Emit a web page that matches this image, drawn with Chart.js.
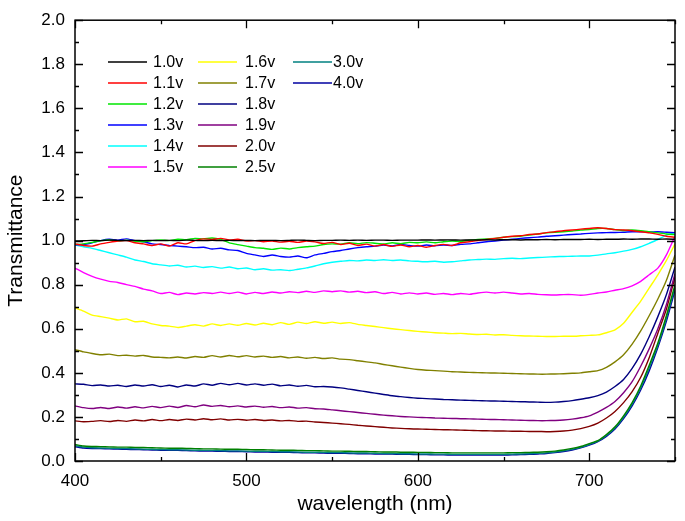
<html>
<head>
<meta name="viewport" content="width=device-width">
<script src="https://cdn.jsdelivr.net/npm/chart.js@4.4.1/dist/chart.umd.min.js"></script>
<style>
  * { padding: 0; margin: 0; }
  body { background: #fff; }
  #wrap { width: 685px; height: 521px; position: relative; }
</style>
</head>
<body>
<div id="wrap"><canvas id="chart"></canvas></div>
<script>
// wavelength (nm)
var wavelengths = [
  400,405,410,415,420,425,430,435,440,445,
  450,455,460,465,470,475,480,485,490,495,
  500,505,510,515,520,525,530,535,540,545,
  550,555,560,565,570,575,580,585,590,595,
  600,605,610,615,620,625,630,635,640,645,
  650,655,660,665,670,675,680,685,690,695,
  700,705,710,715,720,725,730,735,740,745,
  750];

var labels = ['1.0v','1.1v','1.2v','1.3v','1.4v','1.5v','1.6v','1.7v','1.8v','1.9v','2.0v','2.5v','3.0v','4.0v'];
var colors = ['#000000','#ff0000','#00e600','#0000ff','#00ffff','#ff00ff','#ffff00','#808000','#000080','#800080','#800000','#008000','#008080','#0000a0'];

var v10 = [0.998,0.999,1.001,1.000,1.002,1.001,1.000,1.001,1.000,1.001,
  1.000,1.001,1.000,1.002,1.001,1.000,1.001,1.000,1.001,1.000,
  1.001,1.000,1.001,1.001,1.000,1.001,1.002,1.001,1.000,1.001,
  1.001,1.002,1.001,1.002,1.001,1.002,1.002,1.001,1.002,1.002,
  1.002,1.003,1.002,1.003,1.003,1.002,1.003,1.003,1.004,1.003,
  1.004,1.004,1.003,1.004,1.004,1.005,1.004,1.005,1.005,1.005,
  1.006,1.005,1.006,1.006,1.007,1.006,1.007,1.007,1.006,1.007,
  1.006];
var v11 = [0.985,0.978,0.975,0.985,0.992,0.998,1.000,0.990,0.985,0.978,
  0.985,0.975,0.990,0.985,1.000,1.008,1.005,1.010,1.003,1.006,
  0.998,1.000,0.995,0.998,0.993,0.997,0.992,0.998,0.994,0.987,
  0.992,0.982,0.988,0.978,0.984,0.975,0.982,0.974,0.980,0.972,
  0.978,0.970,0.978,0.983,0.978,0.990,0.995,1.000,1.005,1.010,
  1.015,1.020,1.022,1.028,1.030,1.036,1.040,1.045,1.048,1.052,
  1.055,1.058,1.055,1.050,1.048,1.045,1.040,1.035,1.028,1.020,
  1.015];
var v12 = [0.982,0.985,0.992,1.000,1.003,0.998,1.002,0.997,0.995,1.000,
  1.003,1.000,1.006,1.004,1.010,1.008,1.012,1.005,0.990,0.982,
  0.975,0.968,0.965,0.960,0.966,0.962,0.968,0.972,0.975,0.982,
  0.985,0.984,0.990,0.986,0.991,0.988,0.985,0.990,0.986,0.992,
  0.990,0.994,0.990,0.995,0.998,0.996,1.002,1.005,1.008,1.010,
  1.015,1.018,1.020,1.025,1.030,1.035,1.038,1.040,1.043,1.048,
  1.050,1.055,1.055,1.050,1.046,1.048,1.045,1.040,1.035,1.030,
  1.027];
var v13 = [0.980,0.982,0.990,1.000,1.006,1.002,1.008,1.000,0.995,0.985,
  0.982,0.978,0.975,0.972,0.968,0.970,0.962,0.965,0.958,0.955,
  0.942,0.935,0.928,0.935,0.928,0.925,0.930,0.922,0.935,0.942,
  0.950,0.955,0.962,0.968,0.972,0.975,0.980,0.976,0.982,0.978,
  0.975,0.980,0.976,0.980,0.978,0.983,0.985,0.990,0.995,0.998,
  1.002,1.006,1.010,1.013,1.016,1.020,1.022,1.025,1.028,1.030,
  1.033,1.035,1.036,1.037,1.038,1.040,1.040,1.039,1.040,1.038,
  1.036];
var v14 = [0.980,0.972,0.965,0.955,0.945,0.935,0.925,0.912,0.905,0.895,
  0.890,0.885,0.888,0.880,0.884,0.878,0.882,0.875,0.880,0.872,
  0.876,0.868,0.872,0.866,0.868,0.864,0.870,0.876,0.885,0.895,
  0.902,0.906,0.910,0.908,0.912,0.910,0.913,0.910,0.912,0.908,
  0.906,0.904,0.906,0.902,0.904,0.908,0.912,0.914,0.916,0.915,
  0.918,0.920,0.918,0.921,0.923,0.925,0.927,0.928,0.929,0.930,
  0.930,0.934,0.940,0.945,0.952,0.960,0.972,0.988,1.005,1.025,
  1.035];
var v15 = [0.875,0.855,0.838,0.825,0.815,0.810,0.800,0.792,0.780,0.772,
  0.760,0.765,0.755,0.762,0.758,0.764,0.760,0.766,0.760,0.766,
  0.758,0.765,0.760,0.767,0.762,0.768,0.764,0.770,0.765,0.772,
  0.768,0.772,0.766,0.770,0.764,0.768,0.760,0.765,0.758,0.763,
  0.758,0.762,0.756,0.760,0.755,0.760,0.756,0.762,0.766,0.762,
  0.766,0.762,0.758,0.760,0.756,0.754,0.753,0.755,0.755,0.752,
  0.756,0.762,0.767,0.775,0.782,0.795,0.815,0.845,0.875,0.935,
  1.020];
var v16 = [0.695,0.680,0.662,0.655,0.648,0.640,0.645,0.632,0.634,0.622,
  0.615,0.612,0.606,0.612,0.618,0.612,0.622,0.615,0.622,0.616,
  0.624,0.617,0.625,0.618,0.628,0.620,0.630,0.624,0.632,0.625,
  0.630,0.624,0.628,0.620,0.615,0.610,0.605,0.600,0.596,0.592,
  0.588,0.585,0.582,0.580,0.578,0.579,0.576,0.574,0.575,0.572,
  0.573,0.570,0.568,0.567,0.566,0.565,0.565,0.566,0.566,0.568,
  0.570,0.572,0.582,0.595,0.625,0.675,0.725,0.785,0.845,0.910,
  0.985];
var v17 = [0.505,0.495,0.488,0.482,0.485,0.478,0.480,0.476,0.479,0.472,
  0.470,0.468,0.472,0.467,0.474,0.470,0.478,0.472,0.479,0.473,
  0.478,0.472,0.476,0.470,0.474,0.468,0.472,0.466,0.470,0.465,
  0.468,0.462,0.460,0.455,0.450,0.445,0.438,0.432,0.426,0.420,
  0.415,0.412,0.410,0.408,0.405,0.404,0.402,0.401,0.400,0.399,
  0.398,0.397,0.396,0.395,0.394,0.394,0.395,0.396,0.398,0.400,
  0.405,0.410,0.425,0.450,0.482,0.530,0.590,0.660,0.735,0.820,
  0.935];
var v18 = [0.350,0.348,0.342,0.345,0.340,0.344,0.338,0.345,0.340,0.346,
  0.338,0.344,0.336,0.345,0.340,0.350,0.344,0.352,0.346,0.352,
  0.345,0.350,0.344,0.349,0.341,0.345,0.339,0.343,0.337,0.338,
  0.336,0.332,0.326,0.320,0.314,0.308,0.302,0.296,0.292,0.288,
  0.285,0.283,0.281,0.279,0.278,0.276,0.275,0.274,0.273,0.272,
  0.271,0.270,0.269,0.268,0.267,0.266,0.267,0.270,0.274,0.280,
  0.287,0.297,0.313,0.338,0.370,0.420,0.485,0.565,0.655,0.755,
  0.880];
var v19 = [0.250,0.242,0.238,0.243,0.238,0.245,0.240,0.246,0.241,0.248,
  0.242,0.249,0.243,0.252,0.246,0.254,0.248,0.252,0.246,0.250,
  0.245,0.249,0.244,0.247,0.242,0.245,0.240,0.242,0.237,0.236,
  0.232,0.228,0.224,0.220,0.216,0.212,0.208,0.205,0.202,0.200,
  0.198,0.197,0.195,0.194,0.193,0.192,0.191,0.190,0.189,0.188,
  0.187,0.186,0.185,0.184,0.183,0.183,0.184,0.186,0.190,0.196,
  0.205,0.222,0.243,0.270,0.310,0.360,0.430,0.510,0.600,0.710,
  0.850];
var v20 = [0.182,0.178,0.180,0.183,0.179,0.184,0.180,0.186,0.182,0.188,
  0.183,0.188,0.184,0.190,0.186,0.192,0.187,0.191,0.186,0.189,
  0.185,0.188,0.184,0.186,0.182,0.184,0.180,0.181,0.177,0.175,
  0.172,0.169,0.166,0.162,0.159,0.156,0.153,0.150,0.148,0.146,
  0.145,0.144,0.143,0.142,0.141,0.140,0.139,0.138,0.137,0.136,
  0.136,0.135,0.135,0.134,0.134,0.133,0.134,0.136,0.140,0.147,
  0.157,0.172,0.195,0.225,0.265,0.315,0.380,0.470,0.580,0.690,
  0.835];
var v25 = [0.075,0.068,0.066,0.065,0.064,0.063,0.063,0.062,0.061,0.060,
  0.059,0.058,0.058,0.057,0.056,0.055,0.055,0.054,0.053,0.053,
  0.052,0.051,0.051,0.050,0.049,0.049,0.048,0.047,0.047,0.046,
  0.045,0.045,0.044,0.043,0.043,0.042,0.041,0.041,0.040,0.040,
  0.039,0.039,0.038,0.038,0.037,0.037,0.037,0.037,0.037,0.037,
  0.037,0.038,0.038,0.039,0.040,0.042,0.045,0.050,0.057,0.066,
  0.079,0.092,0.120,0.155,0.205,0.265,0.340,0.435,0.535,0.660,
  0.800];
var v30 = [0.070,0.063,0.060,0.059,0.058,0.057,0.056,0.055,0.054,0.053,
  0.052,0.051,0.051,0.050,0.049,0.048,0.048,0.047,0.046,0.046,
  0.045,0.044,0.044,0.043,0.042,0.042,0.041,0.040,0.040,0.039,
  0.038,0.038,0.037,0.036,0.036,0.035,0.034,0.034,0.033,0.033,
  0.032,0.032,0.031,0.031,0.030,0.030,0.030,0.030,0.030,0.030,
  0.030,0.031,0.032,0.033,0.035,0.037,0.041,0.046,0.053,0.062,
  0.075,0.090,0.116,0.150,0.198,0.258,0.331,0.423,0.525,0.648,
  0.788];
var v40 = [0.065,0.059,0.057,0.056,0.055,0.054,0.053,0.052,0.051,0.050,
  0.049,0.048,0.048,0.047,0.046,0.045,0.045,0.044,0.043,0.043,
  0.042,0.041,0.041,0.040,0.039,0.039,0.038,0.037,0.037,0.036,
  0.035,0.035,0.034,0.033,0.033,0.032,0.031,0.031,0.030,0.030,
  0.029,0.029,0.028,0.028,0.027,0.027,0.027,0.027,0.027,0.027,
  0.027,0.028,0.029,0.030,0.032,0.034,0.038,0.043,0.050,0.060,
  0.072,0.088,0.112,0.145,0.192,0.250,0.322,0.410,0.515,0.635,
  0.775];

var series = [v10, v11, v12, v13, v14, v15, v16, v17, v18, v19, v20, v25, v30, v40];

// tick positions (major ones get labels)
var xTicks = [400,450,500,550,600,650,700,750];
var xMajor = [400,500,600,700];
var yTicks = [0,0.1,0.2,0.3,0.4,0.5,0.6,0.7,0.8,0.9,1.0,1.1,1.2,1.3,1.4,1.5,1.6,1.7,1.8,1.9,2.0];

var FONT = 'Arial, "Liberation Sans", sans-serif';

// frame with inward ticks on all four sides
var framePlugin = {
  id: 'frame',
  afterDraw: function(chart) {
    var ctx = chart.ctx, a = chart.chartArea, x = chart.scales.x, y = chart.scales.y;
    ctx.save();
    ctx.strokeStyle = '#000';
    ctx.lineWidth = 1.5;
    ctx.strokeRect(a.left, a.top, a.right - a.left, a.bottom - a.top);
    ctx.lineWidth = 1.3;
    ctx.beginPath();
    xTicks.forEach(function(v) {
      var px = Math.round(x.getPixelForValue(v)) + 0.5;
      var len = xMajor.indexOf(v) >= 0 ? 8 : 4;
      ctx.moveTo(px, a.bottom); ctx.lineTo(px, a.bottom - len);
      ctx.moveTo(px, a.top); ctx.lineTo(px, a.top + len);
    });
    yTicks.forEach(function(v, i) {
      var py = Math.round(y.getPixelForValue(v)) + 0.5;
      var len = i % 2 === 0 ? 8 : 4;
      ctx.moveTo(a.left, py); ctx.lineTo(a.left + len, py);
      ctx.moveTo(a.right, py); ctx.lineTo(a.right - len, py);
    });
    ctx.stroke();
    ctx.restore();
  }
};

// legend in three columns inside the plot
var legendStyle = { lineX: [108, 198, 293], textX: [153, 245, 333], top: 62, row: 21, len: 39, perCol: 6 };
var legendPlugin = {
  id: 'colLegend',
  afterDraw: function(chart) {
    var ctx = chart.ctx;
    ctx.save();
    ctx.font = '16px ' + FONT;
    ctx.textBaseline = 'middle';
    ctx.fillStyle = '#000';
    chart.data.datasets.forEach(function(ds, i) {
      var c = Math.floor(i / legendStyle.perCol), r = i % legendStyle.perCol;
      var yy = legendStyle.top + r * legendStyle.row;
      ctx.strokeStyle = ds.borderColor;
      ctx.lineWidth = 1.5;
      ctx.beginPath();
      ctx.moveTo(legendStyle.lineX[c], yy);
      ctx.lineTo(legendStyle.lineX[c] + legendStyle.len, yy);
      ctx.stroke();
      ctx.fillText(ds.label, legendStyle.textX[c], yy + 1);
    });
    ctx.restore();
  }
};

var datasets = series.map(function(vals, i) {
  return {
    label: labels[i],
    data: vals.map(function(v, j) { return { x: wavelengths[j], y: v }; }),
    borderColor: colors[i],
    borderWidth: 1.4,
    pointRadius: 0,
    tension: 0.2,
    fill: false
  };
});

var ctx = document.getElementById('chart').getContext('2d');
var chart = new Chart(ctx, {
  type: 'line',
  data: { datasets: datasets },
  options: {
    responsive: true,
    maintainAspectRatio: false,
    animation: false,
    layout: { padding: { top: 15, right: 2, left: 0, bottom: 0 } },
    plugins: { legend: { display: false }, tooltip: { enabled: false } },
    scales: {
      x: {
        type: 'linear',
        min: 400, max: 750,
        grid: { display: false, drawTicks: false },
        border: { display: false },
        afterFit: function(s) { s.height = 60; },
        ticks: {
          stepSize: 100,
          padding: 10,
          color: '#000',
          font: { size: 17, family: FONT },
          callback: function(v) { return xMajor.indexOf(v) >= 0 ? String(v) : ''; }
        },
        title: { display: true, text: 'wavelength (nm)', color: '#000', font: { size: 21, family: FONT }, padding: { top: 0, bottom: 4 } }
      },
      y: {
        min: 0, max: 2,
        grid: { display: false, drawTicks: false },
        border: { display: false },
        afterFit: function(s) { s.width = 75; },
        ticks: {
          stepSize: 0.2,
          padding: 10,
          color: '#000',
          font: { size: 17, family: FONT },
          callback: function(v) { return Number(v).toFixed(1); }
        },
        title: { display: true, text: 'Transmittance', color: '#000', font: { size: 21, family: FONT }, padding: { top: 4, bottom: 0 } }
      }
    }
  },
  plugins: [framePlugin, legendPlugin]
});
</script>
</body>
</html>
